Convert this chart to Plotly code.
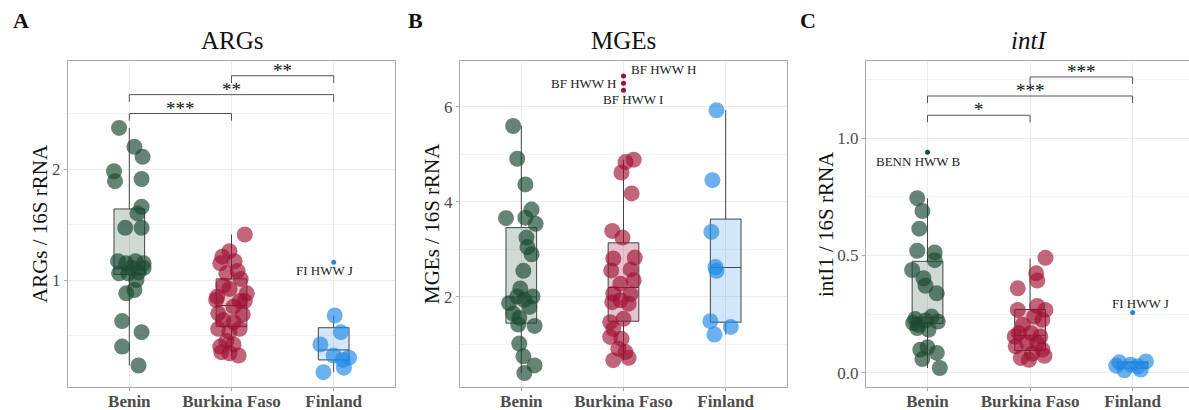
import plotly.graph_objects as go

# ---------------- data ----------------
categories = ["Benin", "Burkina Faso", "Finland"]

# Panel A: ARGs / 16S rRNA
arg_benin = [2.37, 2.20, 2.11, 1.98, 1.89, 1.91, 1.66, 1.60, 1.47, 1.47, 1.17, 1.15, 1.17, 1.15,
             1.06, 1.06, 1.07, 1.11, 1.00, 0.88, 0.91, 0.63, 0.53, 0.40, 0.23, 1.11]
arg_benin_jit = [-0.10, 0.05, 0.13, -0.15, -0.14, 0.12, 0.12, 0.08, -0.04, 0.12, -0.11, -0.03, 0.06, 0.14,
                 -0.10, -0.01, 0.09, 0.14, 0.07, -0.03, 0.05, -0.07, 0.12, -0.07, 0.09, 0.02]
arg_burkina = [1.41, 1.26, 1.21, 1.15, 1.17, 1.08, 1.06, 1.01, 0.85, 0.88, 0.92, 0.95, 0.81, 0.76,
               0.70, 0.69, 0.64, 0.62, 0.56, 0.56, 0.53, 0.45, 0.40, 0.42, 0.35, 0.32, 0.34, 0.82, 0.81]
arg_burkina_jit = [0.13, -0.02, -0.09, -0.11, 0.03, 0.06, -0.05, 0.09, -0.14, 0.15, -0.02, -0.08, 0.08, 0.02,
                   -0.13, 0.11, -0.08, 0.02, -0.13, 0.08, -0.02, -0.05, -0.11, 0.02, -0.10, 0.07, -0.02, -0.15, 0.13]
arg_finland = [0.68, 0.53, 0.42, 0.32, 0.30, 0.28, 0.17, 0.21]
arg_finland_jit = [0.01, 0.07, -0.13, 0.00, 0.15, 0.09, -0.10, 0.10]
arg_q1 = [1.05, 0.58, 0.28]
arg_med = [1.10, 0.77, 0.37]
arg_q3 = [1.64, 1.01, 0.57]
arg_lo = [0.23, 0.32, 0.17]
arg_hi = [2.37, 1.41, 0.68]
arg_out_grp = [3]
arg_out_val = [1.16]
arg_out_lab = ["FI HWW J"]
arg_out_lab_x = [2.91]
arg_out_lab_y = [1.085]
arg_pairs = [(1, 2), (1, 3), (2, 3)]
arg_levels = [2.50, 2.67, 2.84]
arg_stars = ["***", "**", "**"]

# Panel B: MGEs / 16S rRNA
mge_benin = [5.60, 4.91, 4.37, 3.66, 3.84, 3.67, 3.54, 3.25, 3.05, 2.90, 2.55, 2.18, 1.87, 2.01,
             1.94, 2.01, 1.79, 1.65, 1.56, 1.42, 1.39, 1.02, 0.75, 0.56, 0.40]
mge_benin_jit = [-0.08, -0.04, 0.04, -0.15, 0.10, 0.04, 0.14, 0.05, 0.06, 0.10, 0.02, -0.01, -0.12, -0.04,
                 0.03, 0.11, 0.08, -0.08, -0.02, -0.03, 0.13, -0.02, 0.02, 0.13, 0.03]
mge_burkina = [4.89, 4.84, 4.62, 4.18, 3.39, 3.25, 2.81, 2.83, 2.56, 2.58, 2.35, 2.28, 2.07, 2.06,
               1.93, 1.86, 1.89, 1.54, 1.47, 1.33, 1.12, 1.16, 0.91, 0.84, 0.72, 0.67]
mge_burkina_jit = [0.10, 0.02, -0.02, 0.08, -0.11, -0.01, -0.10, 0.11, -0.12, 0.07, 0.10, -0.03, -0.10, 0.07,
                   -0.03, 0.05, -0.11, 0.00, -0.13, -0.10, -0.02, -0.13, -0.05, 0.02, 0.05, -0.10]
mge_finland = [5.93, 4.46, 3.37, 2.63, 2.55, 1.49, 1.37, 1.21]
mge_finland_jit = [-0.09, -0.13, -0.14, -0.10, -0.09, -0.15, 0.05, -0.11]
mge_q1 = [1.45, 1.49, 1.47]
mge_med = [2.00, 2.20, 2.62]
mge_q3 = [3.46, 3.14, 3.64]
mge_lo = [0.40, 0.67, 1.21]
mge_hi = [5.60, 4.89, 5.93]
mge_out_grp = [2, 2, 2]
mge_out_val = [6.65, 6.50, 6.35]
mge_out_lab = ["BF HWW H", "BF HWW H", "BF HWW I"]
mge_out_lab_x = [2.05, 1.95, 2.09]
mge_out_lab_y = [6.79, 6.49, 6.16]
mge_out_lab_anchor = ["left", "right", "center"]

# Panel C: intI1 / 16S rRNA
int_benin = [0.744, 0.689, 0.614, 0.520, 0.513, 0.480, 0.438, 0.403, 0.371, 0.339, 0.229, 0.205,
             0.240, 0.219, 0.184, 0.191, 0.223, 0.099, 0.109, 0.085, 0.059, 0.021, 0.212]
int_benin_jit = [-0.10, -0.05, -0.08, -0.10, 0.07, 0.07, -0.15, -0.04, -0.02, 0.09, -0.12, -0.09,
                 0.04, 0.10, 0.01, -0.10, -0.02, -0.07, 0.00, 0.09, -0.05, 0.12, -0.14]
int_burkina = [0.490, 0.424, 0.393, 0.360, 0.268, 0.285, 0.268, 0.226, 0.205, 0.169, 0.169, 0.155,
               0.113, 0.127, 0.127, 0.099, 0.064, 0.082, 0.073, 0.056, 0.155, 0.240]
int_burkina_jit = [0.15, 0.06, 0.07, -0.12, -0.12, 0.07, 0.15, 0.12, -0.07, -0.11, 0.01, 0.10,
                   -0.14, -0.03, 0.07, 0.12, -0.09, 0.02, 0.14, -0.01, -0.15, 0.04]
int_finland = [0.045, 0.049, 0.011, 0.014, 0.035, 0.028, 0.031]
int_finland_jit = [-0.13, 0.13, -0.08, 0.08, -0.02, 0.05, -0.16]
int_q1 = [0.21, 0.095, 0.020]
int_med = [0.235, 0.160, 0.042]
int_q3 = [0.475, 0.270, 0.047]
int_lo = [0.021, 0.056, 0.011]
int_hi = [0.744, 0.487, 0.049]
int_out_grp = [1, 3]
int_out_val = [0.939, 0.257]
int_out_lab = ["BENN HWW B", "FI HWW J"]
int_out_lab_x = [0.91, 3.08]
int_out_lab_y = [0.898, 0.294]
int_pairs = [(1, 2), (1, 3), (2, 3)]
int_levels = [1.097, 1.179, 1.26]
int_stars = ["*", "***", "***"]

# ---------------- style ----------------
FONT = "Liberation Serif"
pt_colors = ["rgba(28,74,50,0.68)", "rgba(158,14,48,0.64)", "rgba(30,136,229,0.66)"]
box_fill = ["rgba(22,68,44,0.20)", "rgba(158,14,48,0.25)", "rgba(30,136,229,0.20)"]
solid = ["#1B4D3A", "#9E0F33", "#1E88E5"]

fig = go.Figure()


def add_panel(n, groups, jits, q1, med, q3, lo, hi, out_grp, out_val):
    xa = "x" if n == 1 else f"x{n}"
    ya = "y" if n == 1 else f"y{n}"
    for i in range(3):
        fig.add_trace(go.Box(
            x=[i + 1], q1=[q1[i]], median=[med[i]], q3=[q3[i]],
            lowerfence=[lo[i]], upperfence=[hi[i]],
            width=0.3, whiskerwidth=0, boxpoints=False,
            fillcolor=box_fill[i], line=dict(color="#444444", width=1),
            xaxis=xa, yaxis=ya, showlegend=False, hoverinfo="skip"))
    for i in range(3):
        fig.add_trace(go.Scatter(
            x=[i + 1 + j for j in jits[i]], y=groups[i], mode="markers",
            marker=dict(size=16, color=pt_colors[i], line=dict(width=0)),
            xaxis=xa, yaxis=ya, showlegend=False, hoverinfo="skip"))
    fig.add_trace(go.Scatter(
        x=out_grp, y=out_val, mode="markers",
        marker=dict(size=5, color=[solid[g - 1] for g in out_grp]),
        xaxis=xa, yaxis=ya, showlegend=False, hoverinfo="skip"))


add_panel(1, [arg_benin, arg_burkina, arg_finland],
          [arg_benin_jit, arg_burkina_jit, arg_finland_jit],
          arg_q1, arg_med, arg_q3, arg_lo, arg_hi, arg_out_grp, arg_out_val)
add_panel(2, [mge_benin, mge_burkina, mge_finland],
          [mge_benin_jit, mge_burkina_jit, mge_finland_jit],
          mge_q1, mge_med, mge_q3, mge_lo, mge_hi, mge_out_grp, mge_out_val)
add_panel(3, [int_benin, int_burkina, int_finland],
          [int_benin_jit, int_burkina_jit, int_finland_jit],
          int_q1, int_med, int_q3, int_lo, int_hi, int_out_grp, int_out_val)

annotations = []


def add_brackets(n, pairs, levels, stars, leg):
    xa = "x" if n == 1 else f"x{n}"
    ya = "y" if n == 1 else f"y{n}"
    for (a, b), lv, s in zip(pairs, levels, stars):
        fig.add_trace(go.Scatter(
            x=[a, a, b, b], y=[lv - leg, lv, lv, lv - leg], mode="lines",
            line=dict(color="#555555", width=1), xaxis=xa, yaxis=ya,
            showlegend=False, hoverinfo="skip"))
        annotations.append(dict(x=(a + b) / 2, y=lv, xref=xa, yref=ya, text=s,
                                showarrow=False, xanchor="center", yanchor="bottom", yshift=-7,
                                font=dict(family=FONT, size=19, color="#111111")))


add_brackets(1, arg_pairs, arg_levels, arg_stars, 0.065)
add_brackets(3, int_pairs, int_levels, int_stars, 0.03)


def add_labels(n, labs, lx, ly, anchors=None):
    xa = "x" if n == 1 else f"x{n}"
    ya = "y" if n == 1 else f"y{n}"
    for k, (t, x, y) in enumerate(zip(labs, lx, ly)):
        annotations.append(dict(x=x, y=y, xref=xa, yref=ya, text=t, showarrow=False,
                                xanchor=anchors[k] if anchors else "center", yanchor="middle",
                                font=dict(family=FONT, size=13, color="#222222")))


add_labels(1, arg_out_lab, arg_out_lab_x, arg_out_lab_y)
add_labels(2, mge_out_lab, mge_out_lab_x, mge_out_lab_y, mge_out_lab_anchor)
add_labels(3, int_out_lab, int_out_lab_x, int_out_lab_y)

W, H = 1189, 410
def px(xp): return xp / W
def py(yp): return 1 - yp / H

# panel letters, titles, y-axis titles
for letter, xc in [("A", 21), ("B", 415), ("C", 808)]:
    annotations.append(dict(x=px(xc), y=py(20), xref="paper", yref="paper", text=f"<b>{letter}</b>",
                            xanchor="center", yanchor="middle",
                            showarrow=False, font=dict(family=FONT, size=22, color="#111111")))
for title, xc in [("ARGs", 232), ("MGEs", 623), ("<i>intI</i>", 1029)]:
    annotations.append(dict(x=px(xc), y=py(41), xref="paper", yref="paper", text=title,
                            xanchor="center", yanchor="middle",
                            showarrow=False, font=dict(family=FONT, size=25, color="#111111")))
for ytitle, xc in [("ARGs / 16S rRNA", 40), ("MGEs / 16S rRNA", 432), ("intI1 / 16S rRNA", 826)]:
    annotations.append(dict(x=px(xc), y=py(224), xref="paper", yref="paper", text=ytitle,
                            textangle=-90, showarrow=False, xanchor="center", yanchor="middle",
                            font=dict(family=FONT, size=21, color="#111111")))

ydom = [py(387), py(61)]
xdoms = [[px(68), px(395)], [px(460), px(787)], [px(866), 1.0]]
xranges = [[0.4, 3.6], [0.4, 3.6], [0.4, 3.55]]
yranges = [[0.036, 2.973], [0.105, 6.968], [-0.060, 1.328]]
ytickvals = [[1, 2], [2, 4, 6], [0, 0.5, 1.0]]
yticktext = [["1", "2"], ["2", "4", "6"], ["0.0", "0.5", "1.0"]]
yminor = [[0.5, 1.5, 2.5], [1, 3, 5], [0.25, 0.75, 1.25]]

layout = dict(width=W, height=H, margin=dict(l=0, r=0, t=0, b=0, pad=0, autoexpand=False),
              plot_bgcolor="white", paper_bgcolor="white", showlegend=False,
              annotations=annotations)
for i in range(3):
    sx = "xaxis" if i == 0 else f"xaxis{i+1}"
    sy = "yaxis" if i == 0 else f"yaxis{i+1}"
    ax = "x" if i == 0 else f"x{i+1}"
    ay = "y" if i == 0 else f"y{i+1}"
    layout[sx] = dict(domain=xdoms[i], range=xranges[i], anchor=ay, type="linear",
                      automargin=False, ticklabelstandoff=-4,
                      tickvals=[1, 2, 3], ticktext=categories, showgrid=True,
                      gridcolor="#EBEBEB", gridwidth=1, zeroline=False,
                      showline=True, mirror=True, linecolor="#ABABAB", linewidth=1,
                      ticks="outside", ticklen=3, tickcolor="#ABABAB",
                      tickfont=dict(family=FONT, size=17, color="#4D4D4D", weight="bold"))
    layout[sy] = dict(domain=ydom, range=yranges[i], anchor=ax, automargin=False,
                      tickvals=ytickvals[i], ticktext=yticktext[i], showgrid=True,
                      gridcolor="#EBEBEB", gridwidth=1, zeroline=False,
                      showline=True, mirror=True, linecolor="#ABABAB", linewidth=1,
                      ticks="outside", ticklen=3, tickcolor="#ABABAB",
                      minor=dict(tickvals=yminor[i], showgrid=True, gridcolor="#F3F3F3",
                                 gridwidth=1, ticks=""),
                      tickfont=dict(family=FONT, size=17, color="#4D4D4D"))
fig.update_layout(**layout)

fig.write_html("out.html", config={"displayModeBar": False},
               post_script="document.body.style.margin='0px';document.body.style.overflow='hidden';")
